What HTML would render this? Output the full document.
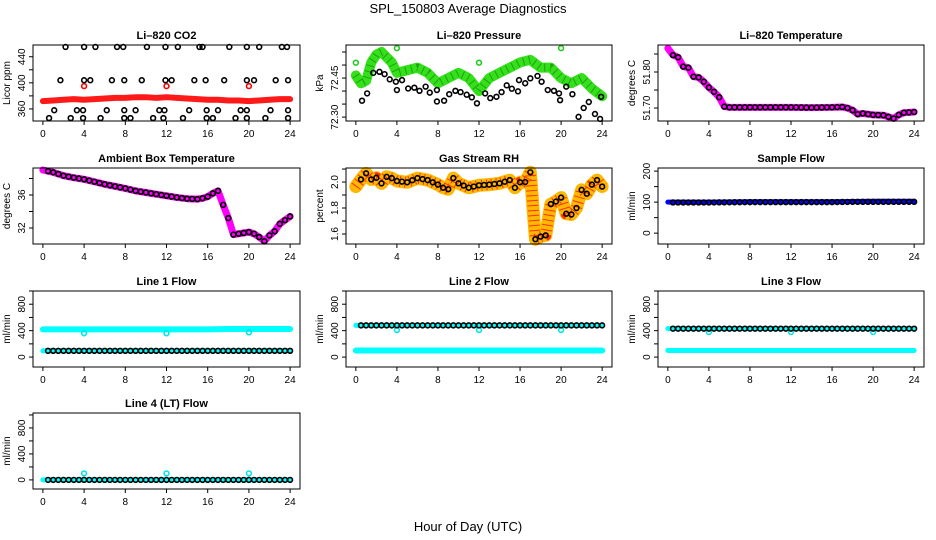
<!DOCTYPE html>
<html><head><meta charset="utf-8"><style>
body{margin:0;background:#fff;}
svg{display:block;font-family:"Liberation Sans",Arial,sans-serif;}
</style></head><body>
<svg id="c" width="936" height="540" xmlns="http://www.w3.org/2000/svg">
<rect width="936" height="540" fill="#fff"/>
<text x="468" y="13" font-size="13" text-anchor="middle">SPL_150803  Average Diagnostics</text>
<text x="468" y="531" font-size="13" text-anchor="middle">Hour of Day (UTC)</text>
</svg>
<script>
const xTicks = [0,4,8,12,16,20,24];
const circleHours = [0.5,1,1.5,2,2.5,3,3.5,4,4.5,5,5.5,6,6.5,7,7.5,8,8.5,9,9.5,10,10.5,11,11.5,12,12.5,13,13.5,14,14.5,15,15.5,16,16.5,17,17.5,18,18.5,19,19.5,20,20.5,21,21.5,22,22.5,23,23.5,24];
// CO2
const co2Hours = [0,1,2,3,4,5,6,7,8,9,10,11,12,13,14,15,16,17,18,19,20,21,22,23,24];
const co2Red = [372,373,374,375,374,375,376,377,377,378,378,377,378,377,376,375,374,374,373,373,372,373,374,375,375];
const co2OutHours = [4,12,20];
const co2OutVals = [395,395,395];
const co2BlackHours = [2.2,4.0,5.1,7.2,7.8,10.1,11.9,13.1,15.2,15.5,18.1,19.8,21.0,23.2,23.7, 1.7,4.0,4.6,6.7,7.9,9.6,11.9,12.5,14.7,15.8,17.6,19.8,20.5,22.6,23.8, 1.1,3.3,3.9,6.2,7.9,9.0,11.3,11.8,14.2,15.9,17.0,19.2,19.8,22.1,23.8, 0.6,2.7,3.9,5.6,7.9,8.5,10.7,11.7,13.6,15.9,16.5,18.7,19.8,21.6,23.8];
const co2BlackVals = [455,455,455,455,455,455,455,455,455,455,455,455,455,455,455, 404,404,404,404,404,404,404,404,404,404,404,404,404,404,404, 358,358,358,358,358,358,358,358,358,358,358,358,358,358,358, 346,346,346,346,346,346,346,346,346,346,346,346,346,346,346];
// Pressure
const presHours = [0,0.5,1,1.5,2,2.5,3,3.5,4,5,6,7,8,9,10,11,12,13,14,15,16,17,18,19,20,21,22,23,24];
const presGreen = [72.46,72.43,72.44,72.51,72.54,72.55,72.53,72.51,72.47,72.48,72.49,72.47,72.43,72.45,72.47,72.45,72.40,72.45,72.47,72.49,72.51,72.52,72.49,72.49,72.45,72.43,72.45,72.41,72.38];
const presOutHours = [0,4,12,20];
const presOutVals = [72.509,72.565,72.509,72.565];
const presBlackHours = [0.6,1.1,1.7,2.3,2.8,3.3,3.9,4.0,4.5,5.1,5.7,6.2,6.8,7.2,7.9,7.9,8.6,9.1,9.7,10.2,10.8,11.3,11.8,12.6,13.1,13.7,14.2,14.7,15.2,15.8,15.9,16.5,17.0,17.7,18.1,18.7,19.3,19.8,19.9,20.5,21.1,21.7,22.2,22.7,23.3,23.8,23.9];
const presBlackVals = [72.363,72.391,72.47,72.474,72.465,72.445,72.436,72.404,72.442,72.41,72.413,72.401,72.417,72.394,72.36,72.404,72.363,72.388,72.401,72.396,72.386,72.376,72.353,72.391,72.373,72.378,72.396,72.422,72.409,72.399,72.442,72.43,72.449,72.458,72.436,72.404,72.401,72.391,72.365,72.417,72.388,72.301,72.335,72.358,72.312,72.293,72.378];
// Li-820 temperature
const tempHours = [0,0.5,1,1.5,2,2.5,3,3.5,4,4.5,5,5.5,6,8,10,12,14,16,17,17.5,18,18.5,19,20,21,22,22.5,23,24];
const tempVals = [51.866,51.847,51.841,51.815,51.812,51.787,51.785,51.773,51.757,51.745,51.73,51.704,51.702,51.702,51.702,51.702,51.701,51.702,51.703,51.70,51.694,51.683,51.685,51.681,51.68,51.671,51.681,51.687,51.689];
// Ambient box temperature
const ambHours = [0,1,2,3,4,5,6,7,8,9,10,11,12,13,14,15,15.5,16,16.5,17,17.5,18,18.5,19,20,20.5,21,21.5,22,22.5,23,24];
const ambVals = [39.03,38.75,38.34,38.1,37.9,37.6,37.3,37.05,36.8,36.5,36.3,36.1,35.9,35.7,35.55,35.5,35.6,35.8,36.2,36.5,34.8,33.2,31.2,31.3,31.5,31.3,30.9,30.4,31.1,31.6,32.5,33.4];
// Gas stream RH
const rhHours = [0,0.5,1,1.5,2,2.5,3,3.5,4,5,6,7,8,8.5,9,9.5,10,11,12,13,14,15,15.5,16,16.5,17,17.5,18,18.5,19,19.5,20,20.5,21,21.5,22,22.5,23,23.5,24];
const rhVals = [1.965,2.02,2.067,2.02,2.033,1.99,2.04,2.03,2.008,1.998,2.03,2.015,1.98,1.956,1.945,2.03,1.99,1.956,1.975,1.98,1.99,2.015,1.956,1.998,2.0,2.075,1.56,1.58,1.59,1.83,1.85,1.88,1.756,1.75,1.80,1.94,1.91,1.98,2.015,1.965];
// Sample flow
const flowHours = [0,4,8,12,16,18,20,24];
const sampleBlue = [100,100,101,101,101,102,103,103];
const sampleBlack = [99,99,100,100,100,101,101,101];
// Line flows
const line1Cyan = [420,420,420,420,420,425,425,425];
const line1Low = [95,95,95,95,95,95,95,95];
const line1Black = [95,95,95,95,95,95,95,95];
const line2Cyan = [480,480,480,480,480,480,480,480];
const line2Low = [100,100,100,100,100,100,100,100];
const line2Black = [480,480,480,480,480,480,480,480];
const line3Cyan = [430,430,430,430,430,430,430,430];
const line3Low = [100,100,100,100,100,100,100,100];
const line3Black = [430,430,430,430,430,430,430,430];
const line4Cyan = [0,0,0,0,0,0,0,0];
const line4Black = [0,0,0,0,0,0,0,0];
const dipHours = [4,12,20];
const line1Dip = [360,360,375];
const line2Dip = [410,410,410];
const line3Dip = [380,380,380];
const line4Dip = [100,100,100];

const NS = "http://www.w3.org/2000/svg";
const svg = document.getElementById('c');
function mk(tag, attrs, parent) {
  const e = document.createElementNS(NS, tag);
  for (const k in attrs) e.setAttribute(k, attrs[k]);
  (parent || svg).appendChild(e);
  return e;
}
function interp(xs, ys, x) {
  if (x <= xs[0]) return ys[0];
  for (let i = 1; i < xs.length; i++) if (x <= xs[i]) { const t = (x - xs[i-1])/(xs[i]-xs[i-1]); return ys[i-1] + t*(ys[i]-ys[i-1]); }
  return ys[ys.length-1];
}
function panel(cfg) {
  const g = mk('g', {});
  
  
  const xmin = -0.96, xmax = 24.96;
  const sx = h => cfg.x0 + (h - xmin)/(xmax - xmin)*(cfg.x1 - cfg.x0);
  const sy = v => cfg.y1 - (v - cfg.ymin)/(cfg.ymax - cfg.ymin)*(cfg.y1 - cfg.y0);
  const t = mk('text', {x:(cfg.x0+cfg.x1)/2, y:cfg.y0-6, 'font-size':11, 'font-weight':'bold', 'text-anchor':'middle'}, g);
  t.textContent = cfg.title;
  
  
  xTicks.forEach(h => {
    mk('line', {x1:sx(h), x2:sx(h), y1:cfg.y1, y2:cfg.y1+4, stroke:'#000'}, g);
    const l = mk('text', {x:sx(h), y:cfg.y1+16, 'font-size':10, 'text-anchor':'middle'}, g);
    l.textContent = h;
    
    
  });
  cfg.yticks.forEach(v => {
    mk('line', {x1:cfg.x0-4, x2:cfg.x0, y1:sy(v), y2:sy(v), stroke:'#000'}, g);
  });
  cfg.ylabels.forEach(v => {
    const l = mk('text', {x:0, y:0, 'font-size':10, 'text-anchor':'middle', transform:`translate(${cfg.x0-8},${sy(v)}) rotate(-90)`}, g);
    l.textContent = cfg.fmt ? cfg.fmt(v) : v;
    
    
  });
  const yt = mk('text', {x:0, y:0, 'font-size':10, 'text-anchor':'middle', transform:`translate(${cfg.x0-23},${(cfg.y0+cfg.y1)/2}) rotate(-90)`}, g);
  yt.textContent = cfg.ytitle;
  
  
  const clip = mk('g', {}, g);
  cfg.draw(clip, sx, sy);
  mk('rect', {x:cfg.x0, y:cfg.y0, width:cfg.x1-cfg.x0, height:cfg.y1-cfg.y0, fill:'none', stroke:'#000'}, g);
}
function band(g, xs, ys, sx, sy, color, w, name, dash) {
  const p = mk('polyline', {points: xs.map((h,i)=>sx(h)+','+sy(ys[i])).join(' '), fill:'none', stroke:color, 'stroke-width':w, 'stroke-linejoin':'round', 'stroke-linecap':'round'}, g);
  if (dash) { p.setAttribute('stroke-dasharray', dash); p.setAttribute('stroke-linecap','butt'); }
  
  
}
function dots(g, xs, ys, sx, sy, color, name) {
  xs.forEach((h,i) => {
    const c = mk('circle', {cx:sx(h), cy:sy(ys[i]), r:2.4, fill:'none', stroke:color, 'stroke-width':1.6}, g);
    
    
  });
}
function dotsOn(g, xs, ys, sx, sy, color, name, start) {
  const hs = circleHours.filter(h => h >= (start||0.5));
  dots(g, hs, hs.map(h => interp(xs, ys, h)), sx, sy, color, name);
}
const R1=[45,121], R2=[168,244], R3=[291,367], R4=[413,489];
const C1=[33,300], C2=[346,612], C3=[658,924];
const flowTicks=[0,200,400,600,800,1000], flowLabels=[0,400,800];

panel({id:'li820-co2-panel', title:'Li–820 CO2', ytitle:'Licor ppm', x0:C1[0],x1:C1[1],y0:R1[0],y1:R1[1], ymin:341.5,ymax:458, yticks:[360,380,400,420,440], ylabels:[360,400,440],
  draw:(g,sx,sy)=>{ band(g,co2Hours,co2Red,sx,sy,'#ff1a1a',6,'co2-red-series'); dots(g,co2OutHours,co2OutVals,sx,sy,'#ff0000','co2-outlier'); dots(g,co2BlackHours,co2BlackVals,sx,sy,'#000','co2-average-point'); }});
panel({id:'li820-pressure-panel', title:'Li–820 Pressure', ytitle:'kPa', x0:C2[0],x1:C2[1],y0:R1[0],y1:R1[1], ymin:72.285,ymax:72.577, yticks:[72.30,72.35,72.40,72.45,72.50,72.55], ylabels:[72.30,72.45], fmt:v=>v.toFixed(2),
  draw:(g,sx,sy)=>{ band(g,presHours,presGreen,sx,sy,'#33e01a',10,'pressure-green-series'); band(g,presHours,presGreen,sx,sy,'#20a010',8,'pressure-green-texture','1 5'); dots(g,presOutHours,presOutVals,sx,sy,'#22cc22','pressure-outlier'); dots(g,presBlackHours,presBlackVals,sx,sy,'#000','pressure-average-point'); }});
panel({id:'li820-temperature-panel', title:'Li–820 Temperature', ytitle:'degrees C', x0:C3[0],x1:C3[1],y0:R1[0],y1:R1[1], ymin:51.664,ymax:51.875, yticks:[51.70,51.75,51.80,51.85], ylabels:[51.70,51.80], fmt:v=>v.toFixed(2),
  draw:(g,sx,sy)=>{ band(g,tempHours,tempVals,sx,sy,'#ff00ff',7,'temperature-magenta-series'); dotsOn(g,tempHours,tempVals,sx,sy,'#000','temperature-average-point'); }});
panel({id:'ambient-temperature-panel', title:'Ambient Box Temperature', ytitle:'degrees C', x0:C1[0],x1:C1[1],y0:R2[0],y1:R2[1], ymin:30.06,ymax:39.27, yticks:[32,34,36,38], ylabels:[32,36],
  draw:(g,sx,sy)=>{ band(g,ambHours,ambVals,sx,sy,'#ff00ff',7,'ambient-magenta-series'); dotsOn(g,ambHours,ambVals,sx,sy,'#000','ambient-average-point'); }});
panel({id:'gas-rh-panel', title:'Gas Stream RH', ytitle:'percent', x0:C2[0],x1:C2[1],y0:R2[0],y1:R2[1], ymin:1.523,ymax:2.108, yticks:[1.6,1.7,1.8,1.9,2.0,2.1], ylabels:[1.6,1.8,2.0], fmt:v=>v.toFixed(1),
  draw:(g,sx,sy)=>{ band(g,rhHours,rhVals,sx,sy,'#ffb800',13,'rh-yellow-series'); band(g,rhHours,rhVals,sx,sy,'#ff3000',11,'rh-red-texture','1 4'); dotsOn(g,rhHours,rhVals,sx,sy,'#000','rh-average-point'); }});
panel({id:'sample-flow-panel', title:'Sample Flow', ytitle:'ml/min', x0:C3[0],x1:C3[1],y0:R2[0],y1:R2[1], ymin:-35,ymax:210, yticks:[0,50,100,150,200], ylabels:[0,100,200],
  draw:(g,sx,sy)=>{ band(g,flowHours,sampleBlue,sx,sy,'#0000ff',5,'sample-blue-series'); dotsOn(g,flowHours,sampleBlack,sx,sy,'#000','sample-average-point'); }});
panel({id:'line1-flow-panel', title:'Line 1 Flow', ytitle:'ml/min', x0:C1[0],x1:C1[1],y0:R3[0],y1:R3[1], ymin:-150,ymax:1000, yticks:flowTicks, ylabels:flowLabels,
  draw:(g,sx,sy)=>{ band(g,flowHours,line1Cyan,sx,sy,'#00ffff',6,'line1-cyan-series'); band(g,flowHours,line1Low,sx,sy,'#00ffff',5,'line1-cyan-low-series'); dots(g,dipHours,line1Dip,sx,sy,'#00e5e5','line1-dip'); dotsOn(g,flowHours,line1Black,sx,sy,'#000','line1-average-point'); }});
panel({id:'line2-flow-panel', title:'Line 2 Flow', ytitle:'ml/min', x0:C2[0],x1:C2[1],y0:R3[0],y1:R3[1], ymin:-150,ymax:1000, yticks:flowTicks, ylabels:flowLabels,
  draw:(g,sx,sy)=>{ band(g,flowHours,line2Cyan,sx,sy,'#00ffff',5,'line2-cyan-series'); band(g,flowHours,line2Low,sx,sy,'#00ffff',6,'line2-cyan-low-series'); dots(g,dipHours,line2Dip,sx,sy,'#00e5e5','line2-dip'); dotsOn(g,flowHours,line2Black,sx,sy,'#000','line2-average-point'); }});
panel({id:'line3-flow-panel', title:'Line 3 Flow', ytitle:'ml/min', x0:C3[0],x1:C3[1],y0:R3[0],y1:R3[1], ymin:-150,ymax:1000, yticks:flowTicks, ylabels:flowLabels,
  draw:(g,sx,sy)=>{ band(g,flowHours,line3Cyan,sx,sy,'#00ffff',5,'line3-cyan-series'); band(g,flowHours,line3Low,sx,sy,'#00ffff',5,'line3-cyan-low-series'); dots(g,dipHours,line3Dip,sx,sy,'#00e5e5','line3-dip'); dotsOn(g,flowHours,line3Black,sx,sy,'#000','line3-average-point'); }});
panel({id:'line4-flow-panel', title:'Line 4 (LT) Flow', ytitle:'ml/min', x0:C1[0],x1:C1[1],y0:R4[0],y1:R4[1], ymin:-140,ymax:1030, yticks:flowTicks, ylabels:flowLabels,
  draw:(g,sx,sy)=>{ band(g,flowHours,line4Cyan,sx,sy,'#00ffff',5,'line4-cyan-series'); dots(g,dipHours,line4Dip,sx,sy,'#00e5e5','line4-dip'); dotsOn(g,flowHours,line4Black,sx,sy,'#000','line4-average-point'); }});
</script>
</body></html>
